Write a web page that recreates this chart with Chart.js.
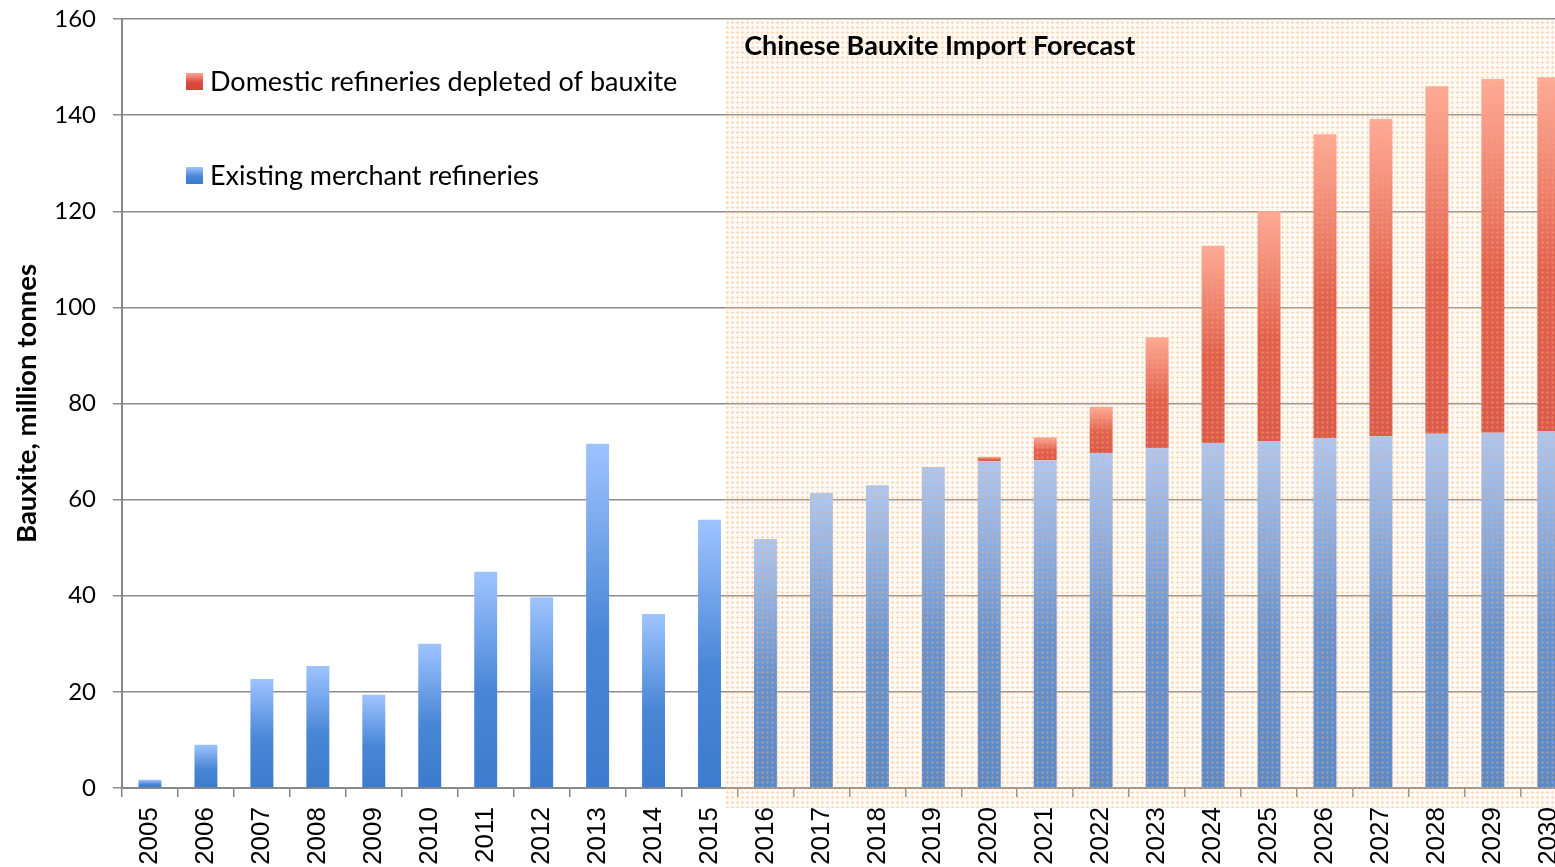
<!DOCTYPE html>
<html>
<head>
<meta charset="utf-8">
<script src="https://cdn.jsdelivr.net/npm/chart.js@4.4.1/dist/chart.umd.min.js"></script>
<style>
body { margin: 0; overflow: hidden; background: #fff; }
</style>
</head>
<body>
<canvas id="bauxite-chart" width="1590" height="900"></canvas>
<script>
const years = ['2005', '2006', '2007', '2008', '2009', '2010', '2011', '2012', '2013', '2014', '2015',
    '2016', '2017', '2018', '2019', '2020', '2021', '2022', '2023', '2024', '2025', '2026', '2027',
    '2028', '2029', '2030'];
const existingMerchant = [1.7, 9, 22.7, 25.4, 19.4, 30, 45, 39.7, 71.6, 36.2, 55.8,
    51.8, 61.4, 63, 66.8, 68, 68.2, 69.7, 70.7, 71.8, 72.2, 72.8, 73.2, 73.7, 73.9, 74.3];
const domesticDepleted = [0, 0, 0, 0, 0, 0, 0, 0, 0, 0, 0,
    0, 0, 0, 0, 0.9, 4.8, 9.6, 23.1, 41, 47.8, 63.2, 66, 72.3, 73.6, 73.6];
const seriesNames = ['Existing merchant refineries', 'Domestic refineries depleted of bauxite'];
const yTicks = [0, 20, 40, 60, 80, 100, 120, 140, 160];
const forecastStart = '2016';
const forecastTitle = 'Chinese Bauxite Import Forecast';

const blueStops = [[0, '#9ec4ff'], [0.55, '#4a86d6'], [1, '#3c7bcd']];
const redStops = [[0, '#ffa294'], [0.55, '#dc4b3d'], [1, '#d4443a']];

function gradient(ctx, top, bottom, stops) {
    const g = ctx.createLinearGradient(0, top, 0, bottom);
    stops.forEach(s => g.addColorStop(s[0], s[1]));
    return g;
}

function barFill(stops, baseOf, valueOf) {
    return function (c) {
        const y = c.chart.scales.y;
        if (!y || c.dataIndex === undefined) return stops[1][1];
        const base = baseOf(c.dataIndex);
        const top = y.getPixelForValue(base + valueOf(c.dataIndex));
        const bottom = y.getPixelForValue(base);
        if (!isFinite(top) || bottom - top < 1) return stops[1][1];
        return gradient(c.chart.ctx, top, bottom, stops);
    };
}

// little orange crosses, like Excel's dotted-grid fill
function makePattern() {
    const p = document.createElement('canvas');
    p.width = 5; p.height = 5;
    const pc = p.getContext('2d');
    pc.fillStyle = 'rgba(255,215,180,0.16)';
    pc.fillRect(0, 0, 5, 5);
    pc.fillStyle = 'rgba(248,170,105,0.42)';
    pc.fillRect(2, 1, 1, 3);
    pc.fillRect(1, 2, 1, 1);
    pc.fillRect(3, 2, 1, 1);
    return p;
}

const forecastBox = {
    id: 'forecastBox',
    afterDatasetsDraw(chart) {
        const ctx = chart.ctx, x = chart.scales.x, area = chart.chartArea;
        const left = x.getPixelForValue(years.indexOf(forecastStart)) - x.width / years.length * 0.72;
        ctx.save();
        ctx.fillStyle = ctx.createPattern(makePattern(), 'repeat');
        ctx.fillRect(left, area.top, chart.width - left, area.bottom - area.top + 20);
        ctx.fillStyle = '#000';
        ctx.font = 'bold 27px Lato';
        ctx.textBaseline = 'middle';
        ctx.fillText(forecastTitle, left + 19, area.top + 27);
        ctx.restore();
    }
};

const sideLegend = {
    id: 'sideLegend',
    afterDraw(chart) {
        const ctx = chart.ctx;
        const items = [
            {text: seriesNames[1], stops: redStops, y: 81},
            {text: seriesNames[0], stops: blueStops, y: 175}
        ];
        ctx.save();
        ctx.font = '27px Lato';
        ctx.textBaseline = 'middle';
        items.forEach(it => {
            ctx.fillStyle = gradient(ctx, it.y - 8, it.y + 9, it.stops);
            ctx.fillRect(186, it.y - 8, 17, 17);
            ctx.fillStyle = '#000';
            ctx.fillText(it.text, 210, it.y + 1);
        });
        ctx.restore();
    }
};

new Chart(document.getElementById('bauxite-chart'), {
    type: 'bar',
    data: {
        labels: years,
        datasets: [{
            label: seriesNames[0],
            data: existingMerchant,
            backgroundColor: barFill(blueStops, () => 0, i => existingMerchant[i]),
            categoryPercentage: 1,
            barPercentage: 0.41
        }, {
            label: seriesNames[1],
            data: domesticDepleted,
            backgroundColor: barFill(redStops, i => existingMerchant[i], i => domesticDepleted[i]),
            categoryPercentage: 1,
            barPercentage: 0.41
        }]
    },
    options: {
        responsive: false,
        animation: false,
        layout: {padding: {top: 19, right: 0, left: 0, bottom: 0}},
        plugins: {legend: {display: false}, tooltip: {enabled: false}},
        scales: {
            x: {
                stacked: true,
                afterFit: s => { s.height = 112; s.paddingTop = 0; },
                grid: {offset: true, drawOnChartArea: false, color: '#888', tickLength: 9, lineWidth: 1.5},
                border: {color: '#888', width: 2},
                ticks: {
                    minRotation: 90, maxRotation: 90, padding: 10,
                    color: '#000', font: {family: 'Liberation Sans', size: 26}
                }
            },
            y: {
                stacked: true,
                min: 0, max: 160,
                afterFit: s => { s.width = 122; s.paddingTop = 0; s.paddingBottom = 0; },
                afterBuildTicks: s => { s.ticks = yTicks.map(v => ({value: v})); },
                grid: {color: '#8c8c8c', tickLength: 9, lineWidth: 1.5},
                border: {color: '#888', width: 2},
                ticks: {padding: 17, color: '#000', font: {family: 'Lato', size: 24}},
                title: {
                    display: true, text: 'Bauxite, million tonnes', color: '#000',
                    font: {family: 'Lato', size: 27.5, weight: 'bold'}, padding: {top: 11, bottom: 0}
                }
            }
        }
    },
    plugins: [forecastBox, sideLegend]
});
</script>
</body>
</html>
